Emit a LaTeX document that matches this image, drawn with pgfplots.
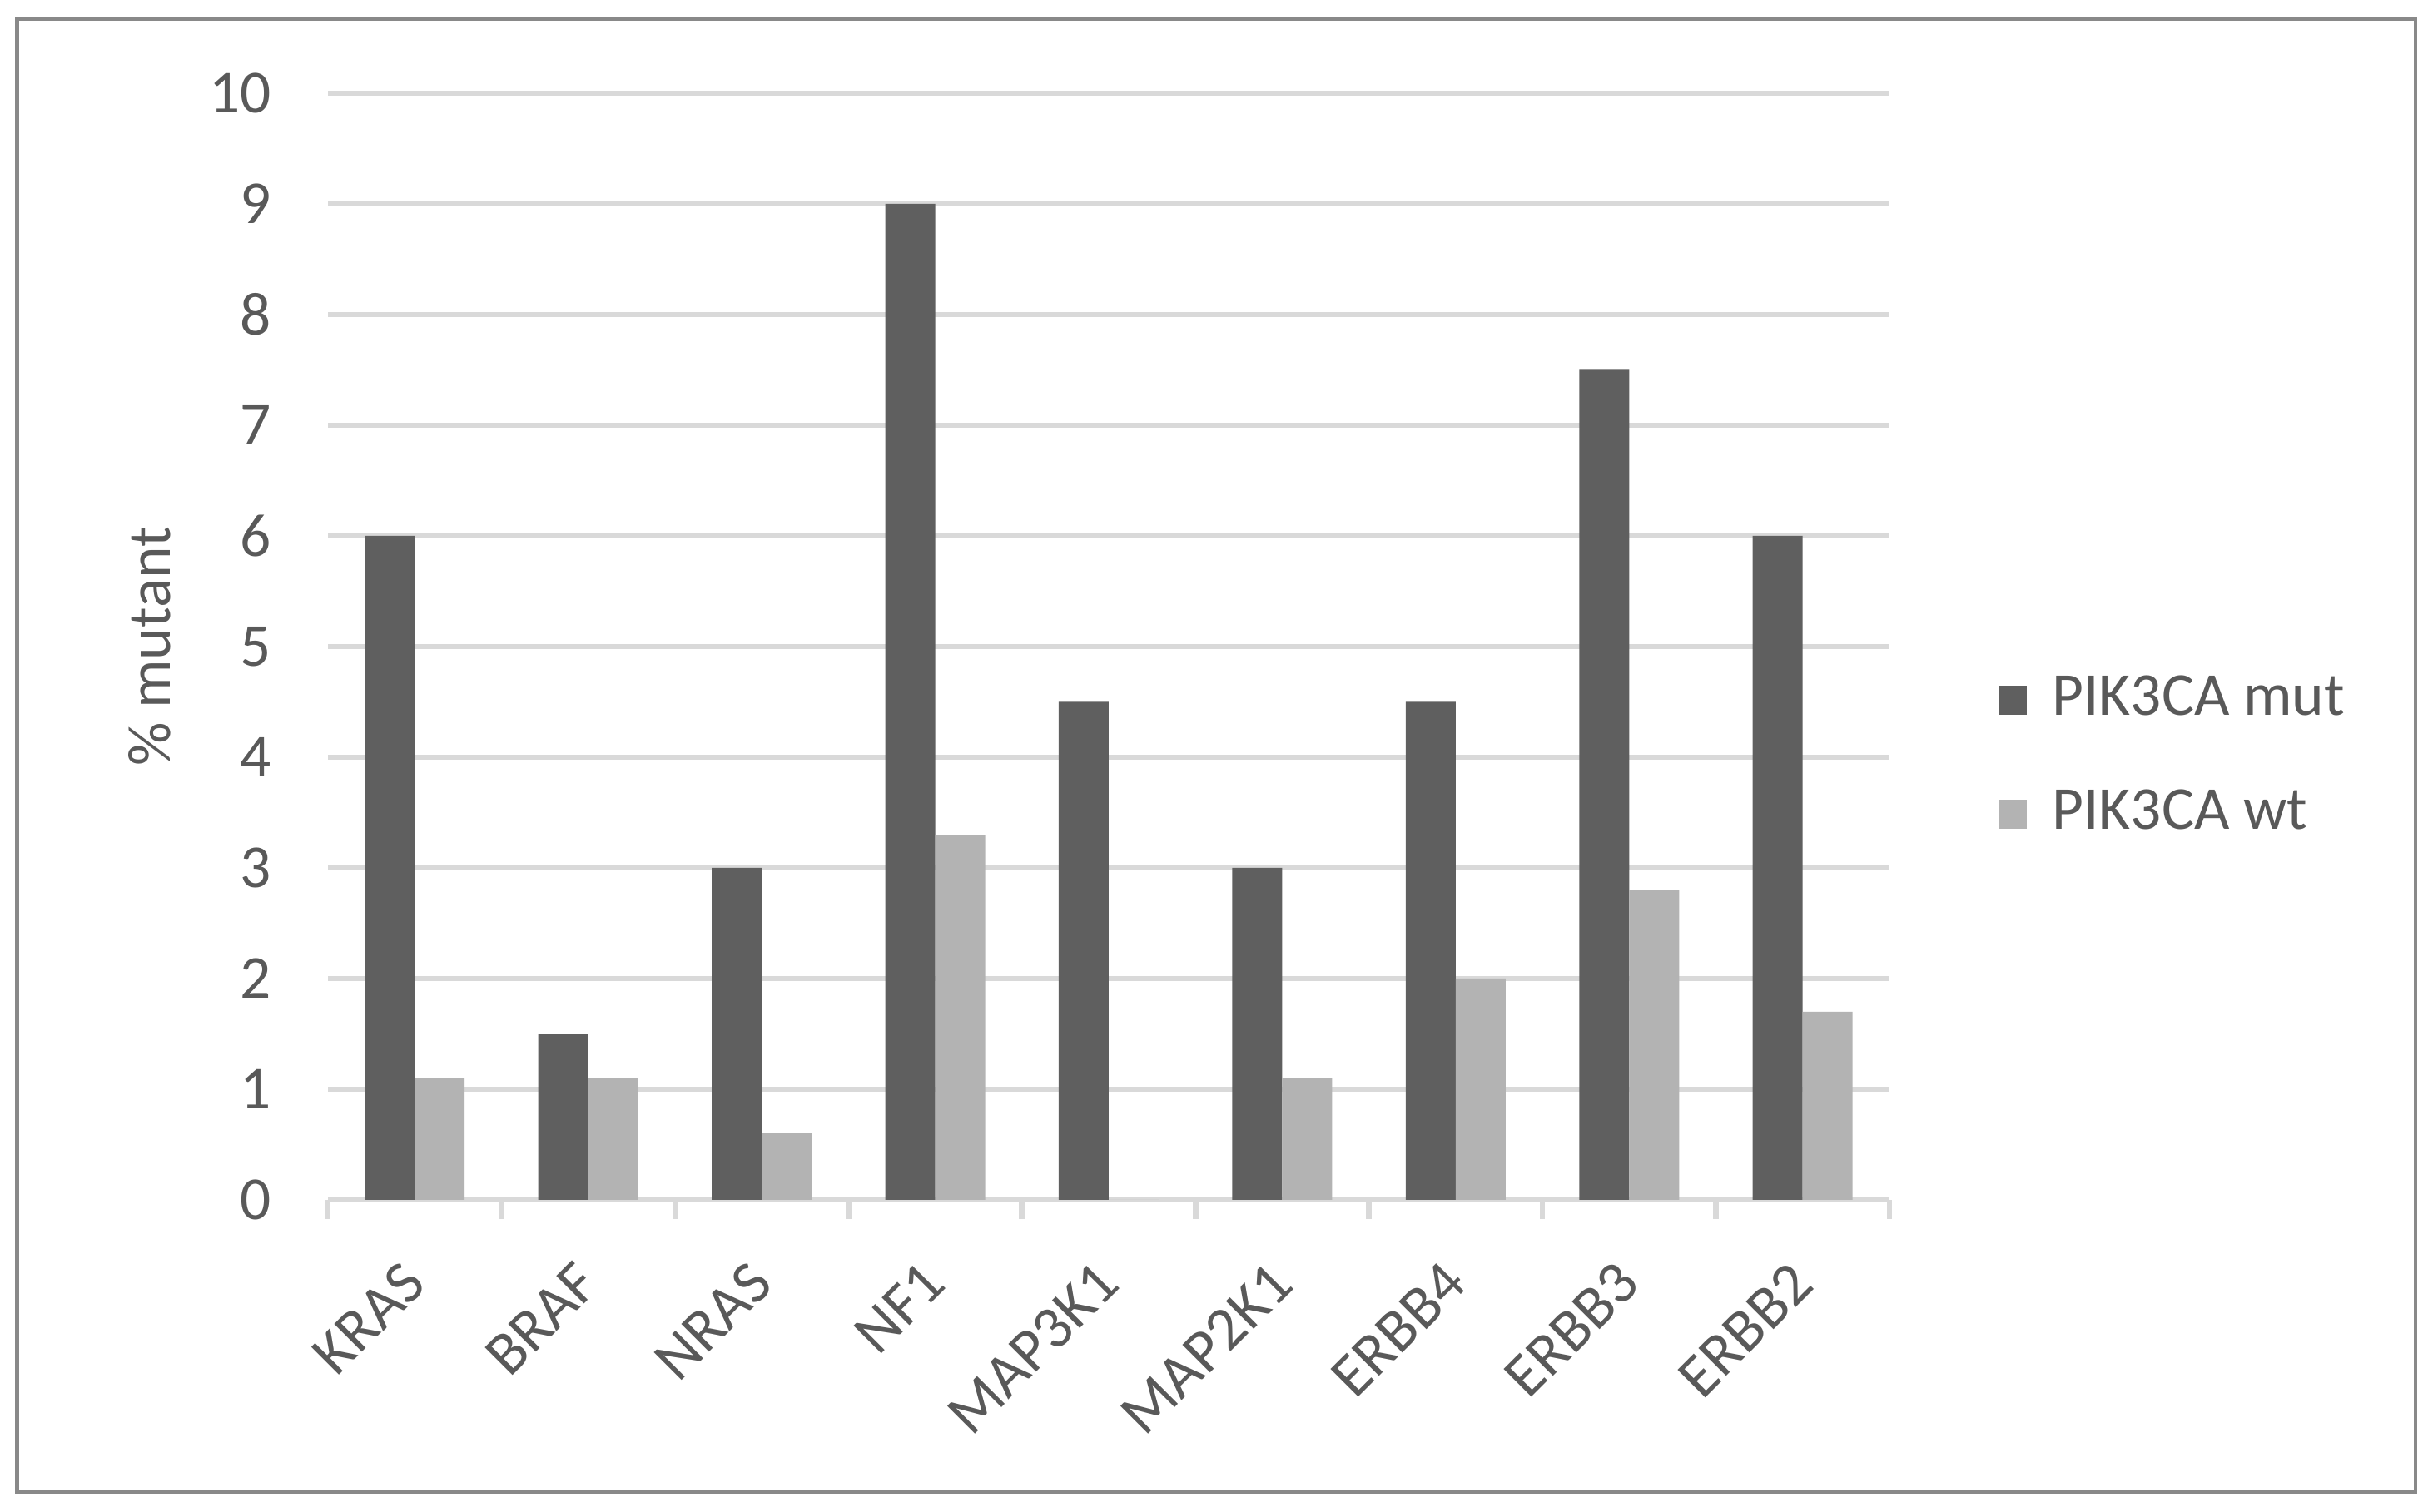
\documentclass[border=0pt]{standalone}
\usepackage{pgfplots}
\pgfplotsset{compat=1.18}
\usepackage{fontspec}
\setmainfont{Carlito}

\definecolor{mutgray}{HTML}{5F5F5F}
\definecolor{wtgray}{HTML}{B3B3B3}
\definecolor{txtgray}{HTML}{595959}
\definecolor{gridgray}{HTML}{D9D9D9}
\definecolor{framegray}{HTML}{898989}

\begin{document}
\begin{tikzpicture}
\fontsize{11}{13}\selectfont
\path[use as bounding box] (0pt,0pt) rectangle (437.55pt,272.55pt);
\draw[framegray, line width=0.7pt] (3.1pt,3.6pt) rectangle (435.3pt,269.2pt);

\begin{axis}[
    at={(59.1pt,56.25pt)}, anchor=south west,
    scale only axis,
    width=281.4pt, height=199.5pt,
    ybar=0pt, bar width=9pt,
    xmin=-0.5, xmax=8.5,
    ymin=0, ymax=10,
    ytick={0,1,...,10},
    xtick={0,...,8},
    xticklabels={KRAS,BRAF,NRAS,NF1,MAP3K1,MAP2K1,ERBB4,ERBB3,ERBB2},
    axis x line*=bottom, axis y line*=left,
    x axis line style={gridgray, line width=1pt, -},
    y axis line style={draw=none},
    ymajorgrids,
    grid style={gridgray, line width=1pt},
    major x tick style={draw=none},
    ytick style={draw=none},
    extra x ticks={-0.5,0.5,...,8.5},
    extra x tick labels={},
    extra x tick style={grid=none, tick align=outside, major tick length=3.4pt,
        major x tick style={draw=gridgray, line width=1pt}},
    xticklabel style={anchor=east, inner sep=0pt, yshift=-8.8pt, rotate=45},
    yticklabel style={anchor=east, inner sep=0pt},
    yticklabel shift=10pt,
    /pgf/number format/assume math mode=true,
    ticklabel style={font=\fontsize{11}{13}\selectfont, text=txtgray},
    ylabel={\% mutant},
    ylabel style={at={(axis description cs:-0.114,0.5)}, anchor=center, rotate=0,
        font=\fontsize{11}{13}\selectfont, text=txtgray},
    legend style={at={(axis description cs:1.069,0.40)}, anchor=west,
        draw=none, fill=none, inner sep=0pt, row sep=7.8pt,
        font=\fontsize{11}{13}\selectfont, text=txtgray,
        nodes={inner xsep=4.5pt}},
    legend cell align=left,
    legend image code/.code={\fill[#1] (0pt,-2.6pt) rectangle (5.2pt,2.6pt);},
]
\addplot[fill=mutgray, draw=none] coordinates {
    (0,6) (1,1.5) (2,3) (3,9) (4,4.5) (5,3) (6,4.5) (7,7.5) (8,6)
};
\addplot[fill=wtgray, draw=none] coordinates {
    (0,1.1) (1,1.1) (2,0.6) (3,3.3) (4,0) (5,1.1) (6,2.0) (7,2.8) (8,1.7)
};
\legend{PIK3CA mut, PIK3CA wt}
\end{axis}
\end{tikzpicture}
\end{document}
